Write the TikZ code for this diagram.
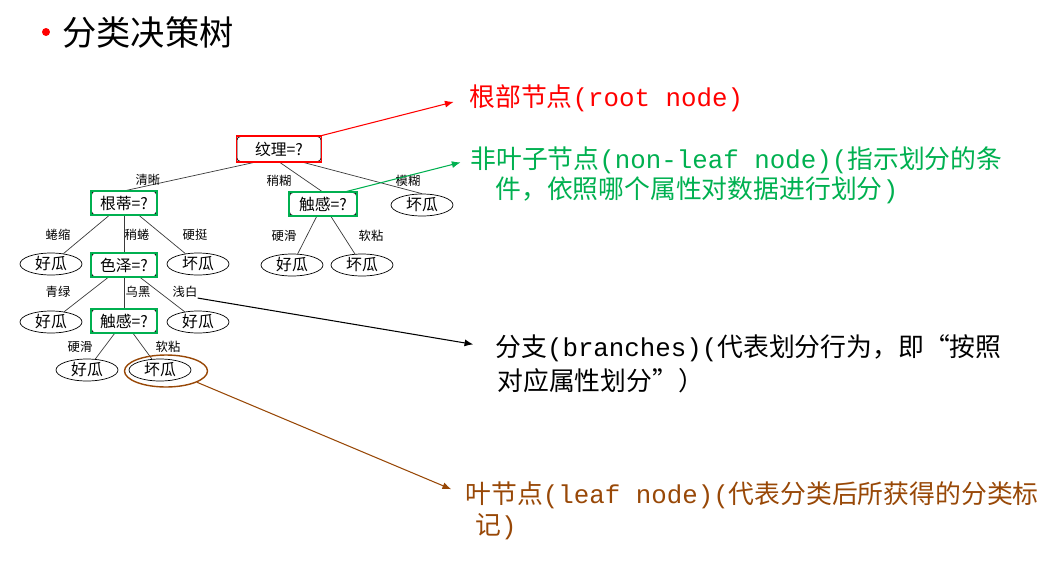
\documentclass[tikz,border=0pt]{standalone}
\usepackage{fontspec}
\setmainfont{Noto Sans CJK SC}
\newfontfamily\mono{Liberation Mono}
\usepackage{xcolor}
\usetikzlibrary{arrows.meta,positioning,fit,shapes.geometric}
\definecolor{MarkRed}{HTML}{FF0000}
\definecolor{MarkGreen}{HTML}{00B050}
\definecolor{MarkBrown}{HTML}{984807}
\definecolor{TreeGray}{HTML}{3A3A3A}

\begin{document}
\begin{tikzpicture}[
  x=0.02cm, y=-0.02cm,
  test/.style={draw,rounded corners=2pt,minimum width=1.3cm,minimum height=0.47cm,inner sep=0pt,font=\fontsize{9}{10}\selectfont},
  leaf/.style={draw,ellipse,minimum width=1.24cm,minimum height=0.44cm,inner sep=0pt,font=\fontsize{9}{10}\selectfont},
  val/.style={inner sep=0pt,font=\fontsize{7}{8}\selectfont},
  branch/.style={draw=TreeGray,line width=0.4pt},
  hilite/.style={draw,line width=0.8pt,inner sep=0pt},
  note/.style={anchor=west,inner sep=0pt,font=\fontsize{14.7}{17}\selectfont},
  callout/.style={-{Latex[length=5pt,width=4pt]},line width=0.6pt}
]
  \useasboundingbox (0,0) rectangle (1063,562);

  % title
  \node[circle,fill=MarkRed,inner sep=0pt,minimum size=0.16cm] (dot) at (46,32) {};
  \node[anchor=west,inner sep=0pt,font=\fontsize{19.5}{22}\selectfont] (title) at (62,32) {分类决策树};

  % the tree
  \node[test,minimum width=1.68cm,minimum height=0.5cm] (rt) at (279,149) {纹理=?};
  \node[test] (rd) at (124,203) {根蒂=?};
  \node[test,minimum width=1.34cm,minimum height=0.46cm] (tr) at (323,204) {触感=?};
  \node[leaf] (bad1) at (422,205) {坏瓜};
  \node[leaf] (good1) at (51,264) {好瓜};
  \node[test] (sz) at (124,265) {色泽=?};
  \node[leaf] (bad2) at (198,264) {坏瓜};
  \node[leaf] (good2) at (292,265) {好瓜};
  \node[leaf] (bad3) at (362,265) {坏瓜};
  \node[leaf] (good3) at (51,322) {好瓜};
  \node[test] (cg) at (124,321) {触感=?};
  \node[leaf] (good4) at (198,322) {好瓜};
  \node[leaf] (good5) at (87,370) {好瓜};
  \node[leaf] (bad4) at (160,370) {坏瓜};

  \draw[branch] (rt.210) -- (rd.north);
  \draw[branch] (rt.south) -- (tr.north);
  \draw[branch] (rt.330) -- (bad1.north);
  \draw[branch] (rd) -- (good1);
  \draw[branch] (rd) -- (sz);
  \draw[branch] (rd) -- (bad2);
  \draw[branch] (tr) -- (good2);
  \draw[branch] (tr) -- (bad3);
  \draw[branch] (sz) -- (good3);
  \draw[branch] (sz) -- (cg);
  \draw[branch] (sz) -- (good4);
  \draw[branch] (cg) -- (good5);
  \draw[branch] (cg) -- (bad4);

  % attribute values
  \node[val] (v1) at (148,180) {清晰};
  \node[val] (v2) at (279,181) {稍糊};
  \node[val] (v3) at (408,181) {模糊};
  \node[val] (v4) at (58,235) {蜷缩};
  \node[val] (v5) at (137,235) {稍蜷};
  \node[val] (v6) at (195,235) {硬挺};
  \node[val] (v7) at (284,236) {硬滑};
  \node[val] (v8) at (371,236) {软粘};
  \node[val] (v9) at (58,292) {青绿};
  \node[val] (v10) at (138,292) {乌黑};
  \node[val] (v11) at (185,292) {浅白};
  \node[val] (v12) at (80,347) {硬滑};
  \node[val] (v13) at (168,347) {软粘};

  % highlights
  \node[hilite,MarkRed,fit=(rt)] (rtmark) {};
  \node[hilite,MarkGreen,fit=(rd)] (rdmark) {};
  \node[hilite,MarkGreen,fit=(tr)] (trmark) {};
  \node[hilite,MarkGreen,fit=(sz)] (szmark) {};
  \node[hilite,MarkGreen,fit=(cg)] (cgmark) {};
  \node[hilite,MarkBrown,ellipse,minimum width=1.66cm,minimum height=0.64cm] (lfmark) at (166,371) {};

  % notes
  \node[note,text=MarkRed] (rootnote) at (469,98) {根部节点{\mono (root node)}};
  \node[note,text=MarkGreen] (nl1) at (470,160) {非叶子节点{\mono (non-leaf node)(}指示划分的条};
  \node[note,text=MarkGreen] (nl2) at (495,190) {件，依照哪个属性对数据进行划分{\mono )}};
  \node[note] (br1) at (495,348) {分支{\mono (branches)(}代表划分行为，即“按照};
  \node[note] (br2) at (497,381) {对应属性划分”）};
  \node[note,text=MarkBrown] (lf1) at (465,495) {叶节点{\mono (leaf node)(}代表分类后所获得的分类标};
  \node[note,text=MarkBrown] (lf2) at (475,527) {记{\mono )}};

  \draw[callout,MarkRed,shorten >=9pt] (rtmark.north east) -- (rootnote.west);
  \draw[callout,MarkGreen,shorten >=5.5pt] (trmark.28) -- (nl1.west);
  \draw[callout,black,shorten >=12.5pt] (v11.south east) -- (br1.west);
  \draw[callout,MarkBrown,shorten >=8.5pt] (lfmark.340) -- (lf1.west);
\end{tikzpicture}
\end{document}
